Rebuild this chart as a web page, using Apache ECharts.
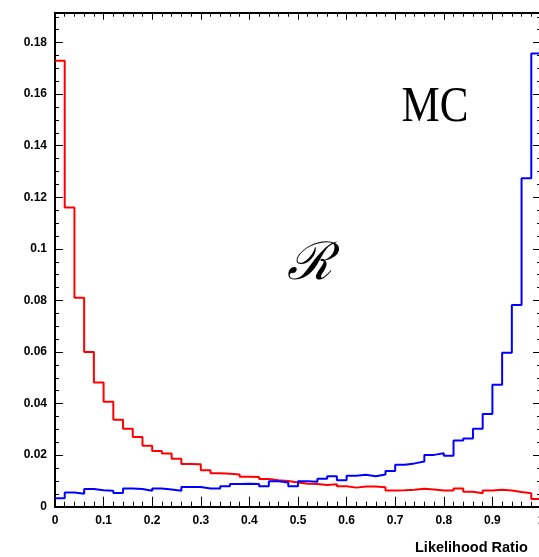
<!DOCTYPE html>
<html>
<head>
<meta charset="utf-8">
<script src="https://cdn.jsdelivr.net/npm/echarts@6/dist/echarts.min.js"></script>
<style>html,body{margin:0;padding:0;background:#fff;}#c{width:539px;height:557px;}</style>
</head>
<body>
<div id="c"></div>
<script>
// 50 bins of width 0.02 on [0,1]
const binEdges = [0,0.02,0.04,0.06,0.08,0.1,0.12,0.14,0.16,0.18,0.2,0.22,0.24,0.26,0.28,0.3,0.32,0.34,0.36,0.38,0.4,0.42,0.44,0.46,0.48,0.5,0.52,0.54,0.56,0.58,0.6,0.62,0.64,0.66,0.68,0.7,0.72,0.74,0.76,0.78,0.8,0.82,0.84,0.86,0.88,0.9,0.92,0.94,0.96,0.98,1];
const redValues = [0.173,0.116,0.081,0.060,0.0482,0.0407,0.0337,0.0302,0.0270,0.0236,0.0216,0.0206,0.0186,0.0166,0.0165,0.0141,0.0130,0.0128,0.0125,0.0116,0.0115,0.0107,0.0103,0.0100,0.0094,0.0089,0.0088,0.0084,0.0087,0.0079,0.0074,0.0078,0.0078,0.0075,0.0063,0.0064,0.0066,0.0070,0.0067,0.0063,0.0063,0.0071,0.0058,0.0052,0.0063,0.0066,0.0063,0.0057,0.0052,0.0030];
const blueValues = [0.0033,0.0055,0.0050,0.0069,0.0064,0.0062,0.0053,0.0071,0.0069,0.0062,0.0071,0.0067,0.0062,0.0076,0.0076,0.0071,0.0071,0.0079,0.0088,0.0089,0.0088,0.0079,0.0099,0.0094,0.0079,0.0099,0.0097,0.0108,0.0118,0.0103,0.0120,0.0124,0.0118,0.0125,0.0138,0.0163,0.0168,0.0175,0.0201,0.0207,0.0198,0.0257,0.0265,0.0302,0.0360,0.0473,0.0597,0.0782,0.1274,0.1758];
const yMajorTicks = [0,0.02,0.04,0.06,0.08,0.1,0.12,0.14,0.16,0.18];
const yMinorTicks = [0.005,0.01,0.015,0.025,0.03,0.035,0.045,0.05,0.055,0.065,0.07,0.075,0.085,0.09,0.095,0.105,0.11,0.115,0.125,0.13,0.135,0.145,0.15,0.155,0.165,0.17,0.175,0.185,0.19];
const xTitle = 'Likelihood Ratio';
const yMax = 0.1916;

function stepData(vals){
  const d = vals.map((v,i)=>[binEdges[i], v]);
  d.push([binEdges[binEdges.length-1], vals[vals.length-1]]);
  return d;
}
const chart = echarts.init(document.getElementById('c'), null, {renderer:'canvas'});
const lblFont = {fontFamily:'Liberation Sans, Arial, sans-serif', fontWeight:'bold', fontSize:12, color:'#000'};
function yAx(pos, major, showLabel, showLine){
  return {
    type:'value', min:0, max:yMax, position:pos,
    axisLine:{show:showLine, lineStyle:{color:'#000', width:2}},
    axisTick:{show:true, inside:true, length: major ? 8 : 4, customValues: major ? yMajorTicks : yMinorTicks, lineStyle:{color:'#000', width:1}},
    axisLabel: showLabel ? Object.assign({show:true, margin:8, customValues:yMajorTicks}, lblFont) : {show:false},
    splitLine:{show:false}
  };
}
chart.setOption({
  animation:false,
  grid:{left:55, top:12.7, width:486, height:494, outerBoundsMode:'none', containLabel:false},
  xAxis:[
    {type:'value', min:0, max:1, interval:0.1, position:'bottom',
     axisLine:{show:true, onZero:false, lineStyle:{color:'#000', width:2}},
     axisTick:{show:true, inside:true, length:10, lineStyle:{color:'#000', width:1}},
     minorTick:{show:true, splitNumber:5, length:5, lineStyle:{color:'#000', width:1}},
     axisLabel:Object.assign({show:true, margin:8, showMaxLabel:true}, lblFont),
     splitLine:{show:false}, minorSplitLine:{show:false}},
    {type:'value', min:0, max:1, interval:0.1, position:'top',
     axisLine:{show:true, onZero:false, lineStyle:{color:'#000', width:2}},
     axisTick:{show:true, inside:true, length:7, lineStyle:{color:'#000', width:1}},
     minorTick:{show:true, splitNumber:5, length:4, lineStyle:{color:'#000', width:1}},
     axisLabel:{show:false}, splitLine:{show:false}}
  ],
  yAxis:[
    yAx('left', true, true, true),
    yAx('left', false, false, false),
    yAx('right', true, false, true),
    yAx('right', false, false, false)
  ],
  series:[
    {type:'line', step:'end', xAxisIndex:0, yAxisIndex:0, data:stepData(redValues), showSymbol:false, lineStyle:{color:'#ff0000', width:2}, itemStyle:{color:'#ff0000'}},
    {type:'line', step:'end', xAxisIndex:0, yAxisIndex:0, data:stepData(blueValues), showSymbol:false, lineStyle:{color:'#0000ff', width:2}, itemStyle:{color:'#0000ff'}}
  ],
  graphic:[
    {type:'text', x:415, y:548, style:{text:xTitle, font:'bold 14.5px "Liberation Sans", Arial, sans-serif', fill:'#000', textAlign:'left', textVerticalAlign:'middle'}},
    {type:'text', x:435, y:108, scaleX:0.86, style:{text:'MC', font:'50px "Liberation Serif", serif', fill:'#000', textAlign:'center', textVerticalAlign:'middle'}},
    {type:'text', x:309, y:265, style:{text:'\u211B', font:'italic 52px "DejaVu Serif", serif', fill:'#000', textAlign:'center', textVerticalAlign:'middle'}}
  ]
});
</script>
</body>
</html>
